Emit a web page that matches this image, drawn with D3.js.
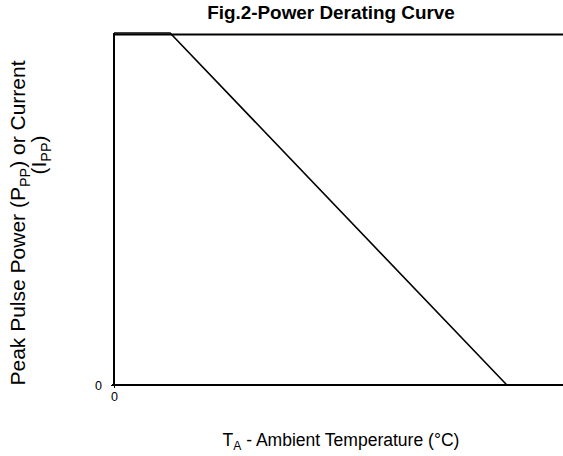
<!DOCTYPE html>
<html>
<head>
<meta charset="utf-8">
<script src="https://cdn.jsdelivr.net/npm/d3@7"></script>
<style>
  body { margin: 0; background: #fff; }
  text { font-family: "Liberation Sans", Arial, sans-serif; fill: #000; }
</style>
</head>
<body>
<div id="chart"></div>
<script>
// derating curve: temperature (°C) vs percent of rated peak pulse power
const temps = [0, 25, 175];
const percent = [100, 100, 0];
const xTicks = [0];
const yTicks = [0];

const W = 563, H = 456;
const margin = {top: 33, right: 0, bottom: 71, left: 114};
const width = W - margin.left - margin.right,
    height = H - margin.top - margin.bottom;

const svg = d3.select("#chart")
  .append("svg")
  .attr("width", W)
  .attr("height", H);

const g = svg.append("g")
  .attr("transform", `translate(${margin.left},${margin.top})`);

const x = d3.scaleLinear().domain([0, 200]).range([0, width]);
const y = d3.scaleLinear().domain([0, 100]).range([height, 0]);

// top frame line
g.append("line")
  .attr("x1", 0).attr("x2", width)
  .attr("y1", 1.5).attr("y2", 1.5)
  .attr("stroke", "#000").attr("stroke-width", 2);

// curve
const pts = temps.map((t, i) => [t, percent[i]]);
g.append("path")
  .datum(pts)
  .attr("fill", "none")
  .attr("stroke", "#000")
  .attr("stroke-width", 1.6)
  .attr("d", d3.line().x(d => x(d[0])).y(d => y(d[1])));

// axes
const xAxis = g.append("g")
  .attr("transform", `translate(0,${height})`)
  .call(d3.axisBottom(x).tickValues(xTicks).tickSize(3).tickFormat(d3.format("d")));
const yAxis = g.append("g")
  .call(d3.axisLeft(y).tickValues(yTicks).tickSize(3).tickFormat(d3.format("d")));

[xAxis, yAxis].forEach(a => {
  a.select(".domain").remove();
  a.selectAll("text").style("font-size", "12.5px").style("font-family", "Liberation Sans, Arial, sans-serif");
  a.selectAll("line").attr("stroke", "#000");
});
xAxis.selectAll("text").attr("y", 16).attr("dy", 0);
yAxis.selectAll("text").attr("x", -12);

g.append("line")
  .attr("x1", -2).attr("x2", width)
  .attr("y1", height).attr("y2", height)
  .attr("stroke", "#000").attr("stroke-width", 2);
g.append("line")
  .attr("x1", 0).attr("x2", 0)
  .attr("y1", 0).attr("y2", height)
  .attr("stroke", "#000").attr("stroke-width", 2);

// scale a text's font so its width matches the target
function fit(sel, target) {
  const w = sel.node().getBBox().width;
  const k = target / w;
  sel.style("font-size", (16 * k) + "px");
  sel.selectAll("tspan.sub").style("font-size", (11 * k) + "px").each(function() {
    const t = d3.select(this);
    t.attr("dy", +t.attr("dy") * k);
  });
  sel.selectAll("tspan.up").each(function() {
    const t = d3.select(this);
    t.attr("dy", +t.attr("dy") * k);
  });
}

// title
const title = svg.append("text")
  .attr("x", 331).attr("y", 19)
  .attr("text-anchor", "middle")
  .style("font-size", "16px")
  .style("font-weight", "bold")
  .text("Fig.2-Power Derating Curve");
fit(title, 248);

// x label
const xl = svg.append("text")
  .attr("x", 341).attr("y", 446)
  .attr("text-anchor", "middle")
  .style("font-size", "16px");
xl.append("tspan").text("T");
xl.append("tspan").attr("class", "sub").attr("dy", 4).style("font-size", "11px").text("A");
xl.append("tspan").attr("class", "up").attr("dy", -4).text(" - Ambient Temperature (°C)");
fit(xl, 237);

// y label
const yl = svg.append("text")
  .attr("transform", "translate(25,223) rotate(-90)")
  .attr("text-anchor", "middle")
  .style("font-size", "16px");
yl.append("tspan").text("Peak Pulse Power (P");
yl.append("tspan").attr("class", "sub").attr("dy", 4).style("font-size", "11px").text("PP");
yl.append("tspan").attr("class", "up").attr("dy", -4).text(") or Current");
fit(yl, 326);

const yl2 = svg.append("text")
  .attr("transform", "translate(46,155) rotate(-90)")
  .attr("text-anchor", "middle")
  .style("font-size", yl.style("font-size"));
const k2 = parseFloat(yl.style("font-size")) / 16;
yl2.append("tspan").text("(I");
yl2.append("tspan").attr("dy", 4 * k2).style("font-size", (11 * k2) + "px").text("PP");
yl2.append("tspan").attr("dy", -4 * k2).text(")");
</script>
</body>
</html>
